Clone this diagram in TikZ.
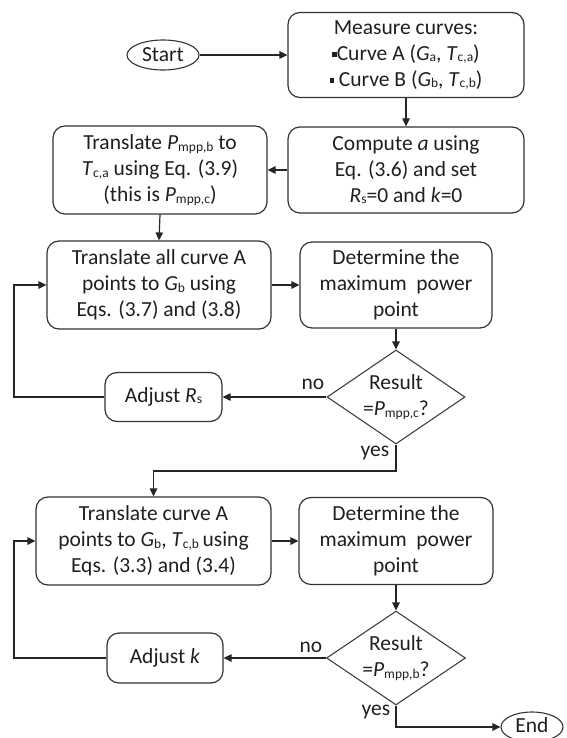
\documentclass[tikz,border=0pt]{standalone}
\usepackage{fontspec}
\setmainfont{Carlito}
\usetikzlibrary{arrows.meta,shapes.geometric}
\newcommand\sbx[1]{\raisebox{-1.3pt}{\fontsize{13.5}{13.5}\selectfont #1}}
\newcommand\sqb{\raisebox{3.5pt}{\rule{4.5pt}{4.5pt}}}
\begin{document}
\begin{tikzpicture}[x=1pt,y=-1pt,
  every node/.style={font=\fontsize{21.5}{26}\selectfont, text=black!88},
  proc/.style={draw=black!80, line width=1.2pt, rounded corners=12pt, align=center, inner sep=0pt},
  term/.style={draw=black!80, line width=1.1pt, ellipse, inner sep=0pt},
  dia/.style={draw=black!75, line width=1.1pt, diamond, inner sep=0pt},
  arr/.style={draw=black!85, line width=1.2pt, -{Triangle[length=8pt,width=7.5pt]}},
  lbl/.style={inner sep=0pt}]
\useasboundingbox (0,0) rectangle (566,738);
% terminals
\node[term, minimum width=72pt, minimum height=30pt] (st) at (163,55) {Start};
\node[term, minimum width=62pt, minimum height=30pt] (en) at (532,727) {\raisebox{3pt}{End}};
% top
\node[proc, minimum width=236pt, minimum height=85pt] (m) at (406,55)
  {Measure curves:\\\sqb Curve A (\textit{G}\sbx{a}, \textit{T}\sbx{c,a})\\\sqb{} Curve B (\textit{G}\sbx{b}, \textit{T}\sbx{c,b})};
\node[proc, minimum width=236pt, minimum height=86pt] (c) at (406,170)
  {Compute \textit{a} using\\Eq. (3.6) and set\\\textit{R}\sbx{s}=0 and \textit{k}=0};
\node[proc, minimum width=214pt, minimum height=88pt] (tp) at (160,170)
  {Translate \textit{P}\sbx{mpp,b} to\\\textit{T}\sbx{c,a} using Eq. (3.9)\\(this is \textit{P}\sbx{mpp,c})};
% loop 1
\node[proc, minimum width=224pt, minimum height=88pt] (ta) at (159,285)
  {Translate all curve A\\points to \textit{G}\sbx{b} using\\Eqs. (3.7) and (3.8)};
\node[proc, minimum width=192pt, minimum height=86pt] (d1) at (396,285)
  {Determine the\\maximum\ \ power\\point};
\node[dia, minimum width=138pt, minimum height=94pt] (q1) at (396,397) {};
\node[lbl, align=center] (q1t) at (q1.center) {Result\\=\textit{P}\sbx{mpp,c}?};
\node[proc, minimum width=117pt, minimum height=49pt] (ar) at (163.5,397) {Adjust \textit{R}\sbx{s}};
\node[lbl] (n1) at (313,384) {no};
\node[lbl] (y1) at (375,453) {yes};
% loop 2
\node[proc, minimum width=235pt, minimum height=88pt] (tc) at (153.5,541)
  {Translate curve A\\points to \textit{G}\sbx{b}, \textit{T}\sbx{c,b}\,using\\Eqs. (3.3) and (3.4)};
\node[proc, minimum width=194pt, minimum height=87pt] (d2) at (396,541)
  {Determine the\\maximum\ \ power\\point};
\node[dia, minimum width=139pt, minimum height=94pt] (q2) at (396,658) {};
\node[lbl, align=center] (q2t) at (q2.center) {Result\\=\textit{P}\sbx{mpp,b}?};
\node[proc, minimum width=116pt, minimum height=50pt] (ak) at (165,658) {Adjust \textit{k}};
\node[lbl] (n2) at (311,647) {no};
\node[lbl] (y2) at (376,712) {yes};
% helper coordinates
\coordinate (l1) at (14,397);
\coordinate (l2) at (14,658);
\coordinate (yb) at (396,471);
% connectors
\draw[arr] (st.east) -- (m.west);
\draw[arr] (m.south) -- (c.north);
\draw[arr] (c.west) -- (tp.east);
\draw[arr] (tp.south) -- (ta.north);
\draw[arr] (ta.east) -- (d1.west);
\draw[arr] (d1.south) -- (q1.north);
\draw[arr] (q1.west) -- (ar.east);
\draw[arr] (ar.west) -- (l1) |- (ta.west);
\draw[arr] (q1.south) -- (yb) -| (tc.north);
\draw[arr] (tc.east) -- (d2.west);
\draw[arr] (d2.south) -- (q2.north);
\draw[arr] (q2.west) -- (ak.east);
\draw[arr] (ak.west) -- (l2) |- (tc.west);
\draw[arr] (q2.south) |- (en.west);
\end{tikzpicture}
\end{document}
